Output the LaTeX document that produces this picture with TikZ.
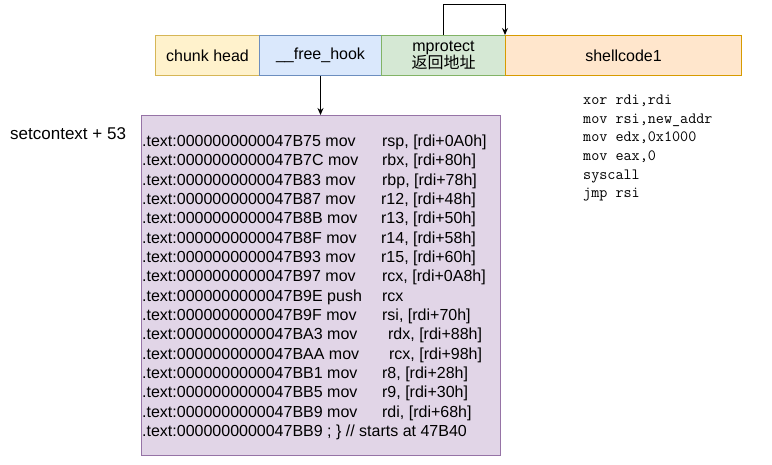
\documentclass[tikz,border=0pt]{standalone}
\usepackage{fontspec}
\setmainfont{Liberation Sans}
\newfontfamily\cjk{Noto Sans CJK SC}
\usetikzlibrary{arrows.meta}
\definecolor{chf}{HTML}{FFF2CC}\definecolor{chd}{HTML}{D6B656}
\definecolor{fhf}{HTML}{DAE8FC}\definecolor{fhd}{HTML}{6C8EBF}
\definecolor{mpf}{HTML}{D5E8D4}\definecolor{mpd}{HTML}{82B366}
\definecolor{scf}{HTML}{FFE6CC}\definecolor{scd}{HTML}{D79B00}
\definecolor{cdf}{HTML}{E1D5E7}\definecolor{cdd}{HTML}{9673A6}
\tikzset{
  cell/.style={draw, line width=1pt, anchor=north west, minimum height=40pt, inner sep=0pt, align=center, font=\fontsize{16}{19}\selectfont},
  arr/.style={draw=black, line width=1pt, -{Stealth[length=7pt,width=6pt]}},
  codeline/.style={anchor=base west, inner sep=0pt, font=\fontsize{16}{19}\selectfont},
  asmline/.style={anchor=base west, inner sep=0pt, font=\fontsize{15.7}{18}\selectfont\ttfamily},
}
\begin{document}
\begin{tikzpicture}[x=1pt,y=-1pt]
\useasboundingbox (0,0) rectangle (772,465);
\node[cell, fill=chf, draw=chd, minimum width=104pt] (ch) at (155,35) {chunk head};
\node[cell, fill=fhf, draw=fhd, minimum width=122pt] (fh) at (259,35) {\_\_free\_hook};
\node[cell, fill=mpf, draw=mpd, minimum width=124pt] (mp) at (381,35) {mprotect\\[-2pt]{\cjk 返回地址}};
\node[cell, fill=scf, draw=scd, minimum width=236pt] (sc) at (505,35) {shellcode1};
\node[draw=cdd, fill=cdf, line width=1pt, anchor=north west, minimum width=359pt, minimum height=340pt, inner sep=0pt] (code) at (141,115) {};
\node[codeline, font=\fontsize{17}{20}\selectfont] (lbl) at (10,140) {setcontext + 53};
\foreach \i/\a/\b/\w in {
 0/.text:0000000000047B75 mov/{rsp, [rdi+0A0h]}/240,
 1/.text:0000000000047B7C mov/{rbx, [rdi+80h]}/240,
 2/.text:0000000000047B83 mov/{rbp, [rdi+78h]}/240,
 3/.text:0000000000047B87 mov/{r12, [rdi+48h]}/239,
 4/.text:0000000000047B8B mov/{r13, [rdi+50h]}/239,
 5/.text:0000000000047B8F mov/{r14, [rdi+58h]}/239,
 6/.text:0000000000047B93 mov/{r15, [rdi+60h]}/239,
 7/.text:0000000000047B97 mov/{rcx, [rdi+0A8h]}/240,
 8/.text:0000000000047B9E push/{rcx}/240,
 9/.text:0000000000047B9F mov/{rsi, [rdi+70h]}/240,
 10/.text:0000000000047BA3 mov/{rdx, [rdi+88h]}/246,
 11/.text:0000000000047BAA mov/{rcx, [rdi+98h]}/247,
 12/.text:0000000000047BB1 mov/{r8, [rdi+28h]}/240,
 13/.text:0000000000047BB5 mov/{r9, [rdi+30h]}/240,
 14/.text:0000000000047BB9 mov/{rdi, [rdi+68h]}/240}
{ \node[codeline] (l\i) at (142,146.5+19.33*\i) {\makebox[\w pt][l]{\a}\b}; }
\node[codeline] (l15) at (142,146.5+19.33*15) {.text:0000000000047BB9 ; \} // starts at 47B40};
\foreach \i/\t in {0/{xor rdi,rdi},1/{mov rsi,new\_addr},2/{mov edx,0x1000},3/{mov eax,0},4/{syscall},5/{jmp rsi}}
{ \node[asmline] (s\i) at (583,104.5+18.67*\i) {\t}; }
\coordinate (lp) at (443,5);
\draw[arr] (lp |- mp.north) -- (lp) -| (sc.north west);
\draw[arr] (fh.south) -- (fh.south |- code.north);
\end{tikzpicture}
\end{document}
